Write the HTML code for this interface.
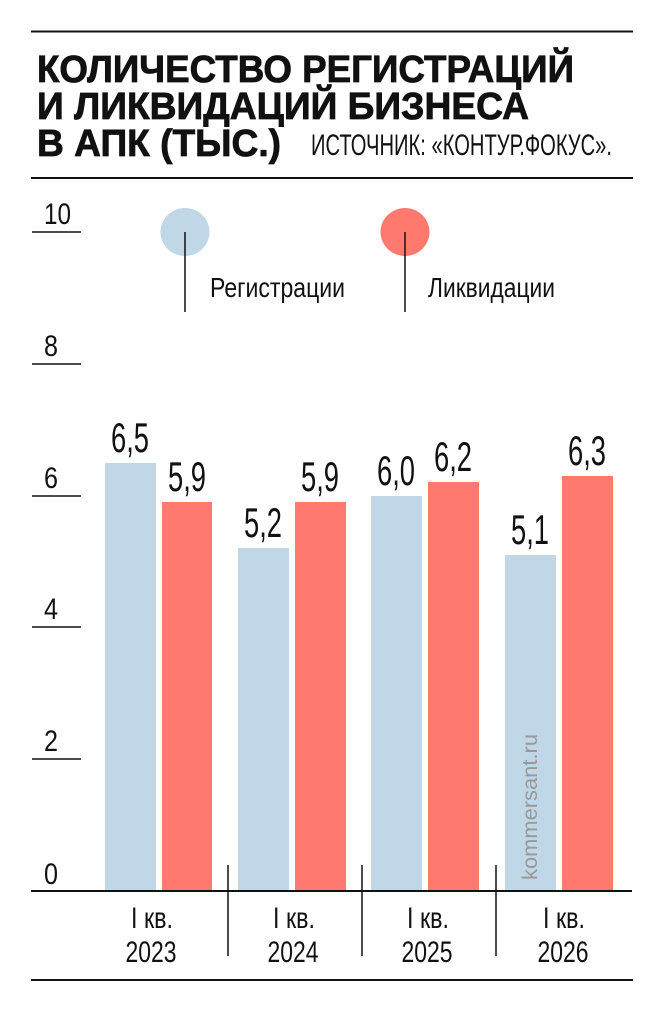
<!DOCTYPE html>
<html><head><meta charset="utf-8"><style>
html,body{margin:0;padding:0;background:#fff;}
svg{display:block;}
text{font-family:"Liberation Sans Narrow","Liberation Sans",sans-serif;fill:#111;}
</style></head><body>
<svg width="660" height="1011" viewBox="0 0 660 1011" xmlns="http://www.w3.org/2000/svg">
<line x1="31" y1="31.5" x2="633" y2="31.5" stroke="#111" stroke-width="2"/>
<g style="font-family:'Liberation Sans',sans-serif;font-weight:bold;stroke:#111;stroke-width:0.8" font-size="38">
<text x="37" y="82" textLength="537" lengthAdjust="spacingAndGlyphs">КОЛИЧЕСТВО РЕГИСТРАЦИЙ</text>
<text x="37" y="119" textLength="492" lengthAdjust="spacingAndGlyphs">И ЛИКВИДАЦИЙ БИЗНЕСА</text>
<text x="37" y="156" textLength="244" lengthAdjust="spacingAndGlyphs">В АПК (ТЫС.)</text>
</g>
<text x="311" y="155" font-size="30" textLength="301" lengthAdjust="spacingAndGlyphs">ИСТОЧНИК: «КОНТУР.ФОКУС».</text>
<line x1="31" y1="178" x2="633" y2="178" stroke="#111" stroke-width="2"/>

<g font-size="30">
<text x="44" y="224" textLength="27" lengthAdjust="spacingAndGlyphs">10</text>
<text x="44" y="356" textLength="14" lengthAdjust="spacingAndGlyphs">8</text>
<text x="44" y="488" textLength="14" lengthAdjust="spacingAndGlyphs">6</text>
<text x="44" y="619" textLength="14" lengthAdjust="spacingAndGlyphs">4</text>
<text x="44" y="751" textLength="14" lengthAdjust="spacingAndGlyphs">2</text>
<text x="44" y="884" textLength="14" lengthAdjust="spacingAndGlyphs">0</text>
</g>
<g stroke="#111" stroke-width="1.5">
<line x1="32" y1="232" x2="81" y2="232"/>
<line x1="32" y1="364" x2="81" y2="364"/>
<line x1="32" y1="496" x2="81" y2="496"/>
<line x1="32" y1="627" x2="81" y2="627"/>
<line x1="32" y1="759" x2="81" y2="759"/>
</g>

<ellipse cx="185" cy="232" rx="24.5" ry="24" fill="#c0d7e8"/>
<ellipse cx="405" cy="232" rx="24.5" ry="24" fill="#fe7a6e"/>
<line x1="185" y1="232" x2="185" y2="312" stroke="#111" stroke-width="1.5"/>
<line x1="405" y1="232" x2="405" y2="312" stroke="#111" stroke-width="1.5"/>
<text x="210" y="297" font-size="28" textLength="135" lengthAdjust="spacingAndGlyphs">Регистрации</text>
<text x="428" y="297" font-size="28" textLength="127" lengthAdjust="spacingAndGlyphs">Ликвидации</text>

<g fill="#c0d7e8">
<rect x="105" y="463" width="51" height="428"/>
<rect x="238" y="548" width="51" height="343"/>
<rect x="371" y="496" width="51" height="395"/>
<rect x="505" y="555" width="51" height="336"/>
</g>
<g fill="#fe7a6e">
<rect x="162" y="502" width="50" height="389"/>
<rect x="295" y="502" width="51" height="389"/>
<rect x="428" y="482" width="51" height="409"/>
<rect x="562" y="476" width="51" height="415"/>
</g>
<text transform="translate(537,880) rotate(-90)" font-size="21" style="fill:#999" textLength="146" lengthAdjust="spacingAndGlyphs">kommersant.ru</text>

<g font-size="42" text-anchor="middle">
<text x="130" y="452" textLength="38" lengthAdjust="spacingAndGlyphs">6,5</text>
<text x="187" y="491" textLength="38" lengthAdjust="spacingAndGlyphs">5,9</text>
<text x="263" y="537" textLength="38" lengthAdjust="spacingAndGlyphs">5,2</text>
<text x="320" y="491" textLength="38" lengthAdjust="spacingAndGlyphs">5,9</text>
<text x="396" y="485" textLength="38" lengthAdjust="spacingAndGlyphs">6,0</text>
<text x="453" y="471" textLength="38" lengthAdjust="spacingAndGlyphs">6,2</text>
<text x="530" y="544" textLength="38" lengthAdjust="spacingAndGlyphs">5,1</text>
<text x="587" y="465" textLength="38" lengthAdjust="spacingAndGlyphs">6,3</text>
</g>

<line x1="31" y1="891" x2="632" y2="891" stroke="#111" stroke-width="2"/>
<g stroke="#111" stroke-width="1.5">
<line x1="228" y1="865" x2="228" y2="956"/>
<line x1="362" y1="865" x2="362" y2="956"/>
<line x1="496" y1="865" x2="496" y2="956"/>
</g>
<g font-size="30" text-anchor="middle">
<text x="152" y="928" textLength="42" lengthAdjust="spacingAndGlyphs">I кв.</text><text x="151" y="962" textLength="51" lengthAdjust="spacingAndGlyphs">2023</text>
<text x="294" y="928" textLength="42" lengthAdjust="spacingAndGlyphs">I кв.</text><text x="293" y="962" textLength="51" lengthAdjust="spacingAndGlyphs">2024</text>
<text x="428" y="928" textLength="42" lengthAdjust="spacingAndGlyphs">I кв.</text><text x="427" y="962" textLength="51" lengthAdjust="spacingAndGlyphs">2025</text>
<text x="564" y="928" textLength="42" lengthAdjust="spacingAndGlyphs">I кв.</text><text x="563" y="962" textLength="51" lengthAdjust="spacingAndGlyphs">2026</text>
</g>
<line x1="31" y1="980" x2="633" y2="980" stroke="#111" stroke-width="2"/>
</svg>
</body></html>
